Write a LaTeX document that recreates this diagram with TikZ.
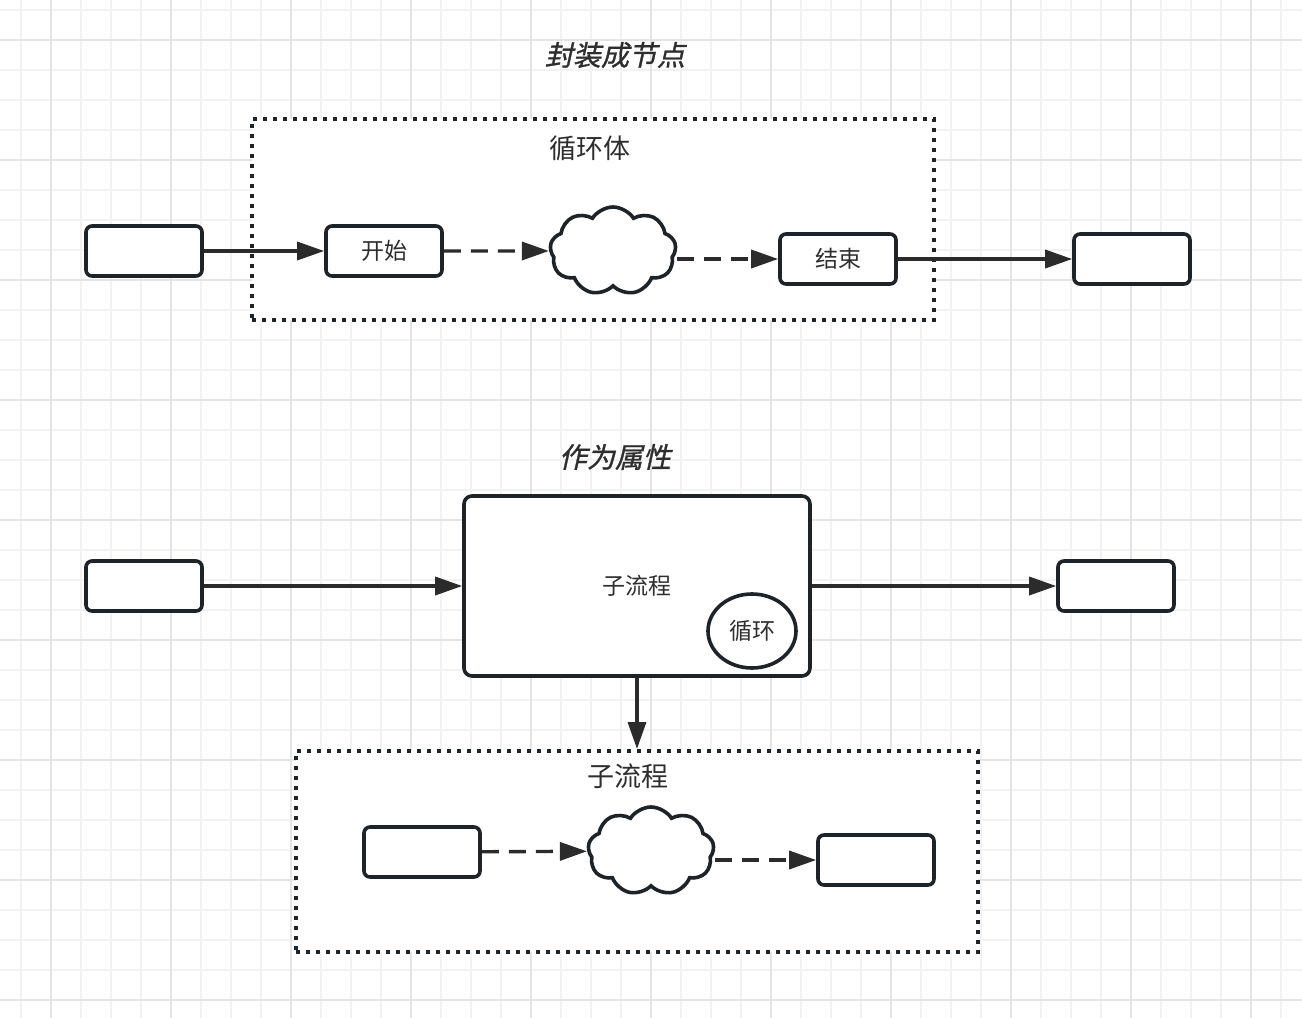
\documentclass[tikz,border=0pt]{standalone}
\usepackage{fontspec}
\usepackage{xcolor}
\usetikzlibrary{positioning, shapes.symbols, shapes.geometric, arrows.meta}
\newfontfamily\cjk{Noto Sans CJK SC}
\newfontfamily\cjkslant[FakeSlant=0.22, FakeBold=1]{Noto Sans CJK SC}
\definecolor{ink}{HTML}{1E2328}
\definecolor{arr}{HTML}{2B2B2B}
\definecolor{txt}{HTML}{2E2E2E}
\definecolor{gridminor}{HTML}{F2F2F2}
\definecolor{gridmajor}{HTML}{E4E4E4}

\begin{document}
\begin{tikzpicture}[x=1pt, y=-1pt,
  blk/.style={draw=ink, fill=white, line width=3.6pt, rounded corners=6pt, minimum width=116pt, minimum height=50pt, inner sep=0pt, font=\cjk\fontsize{23}{23}\selectfont, text=txt},
  grp/.style={draw=ink, fill=white, line width=4pt, dash pattern=on 4pt off 6pt, minimum width=682pt, minimum height=201pt, inner sep=0pt},
  cld/.style={draw=ink, fill=white, line width=3.6pt, cloud, cloud puffs=9, cloud puff arc=115, cloud ignores aspect, minimum width=126pt, minimum height=88pt, inner sep=0pt},
  ttl/.style={font=\cjkslant\fontsize{28}{28}\selectfont, text=txt},
  lbl/.style={font=\cjk\fontsize{27}{27}\selectfont, text=txt},
  edg/.style={draw=arr, line width=3.4pt, -{Triangle[length=27pt, width=18pt]}},
  dsh/.style={edg, dash pattern=on 17pt off 10pt},
]
\useasboundingbox (0,0) rectangle (1302,1018);

% ── grid paper ──
\fill[white] (0,0) rectangle (1302,1018);
\foreach \gx in {21,51,...,1301} \draw[gridminor, line width=2pt] (\gx,0) -- (\gx,1018);
\foreach \gy in {10,40,...,1010} \draw[gridminor, line width=2pt] (0,\gy) -- (1302,\gy);
\foreach \gx in {51,171,...,1291} \draw[gridmajor, line width=2pt] (\gx,0) -- (\gx,1018);
\foreach \gy in {40,160,...,1010} \draw[gridmajor, line width=2pt] (0,\gy) -- (1302,\gy);

% ── wrapped as a node ──
\node[ttl] (title1) at (615,55) {封装成节点};
\node[grp] (loop) at (593,219.5) {};
\node[lbl] (loopname) at (590,148) {循环体};
\node[blk] (in1) at (144,251) {};
\node[blk] (start) at (384,251) {开始};
\node[cld] (body1) at (613,251) {};
\node[blk] (stop) at (838,259) {结束};
\node[blk] (out1) at (1132,259) {};
\draw[edg] (in1) -- (start);
\draw[dsh] (start) -- (body1);
\draw[dsh] (body1.east |- stop.west) -- (stop);
\draw[edg] (stop) -- (out1);

% ── as an attribute ──
\node[ttl] (title2) at (615,457) {作为属性};
\node[blk, minimum width=346pt, minimum height=180pt, rounded corners=8pt] (sub) at (637,586) {子流程};
\node[draw=ink, fill=white, ellipse, line width=3.6pt, minimum width=88pt, minimum height=74pt, inner sep=0pt, font=\cjk\fontsize{23}{23}\selectfont, text=txt] (loopattr) at (752,631) {循环};
\node[blk] (in2) at (144,586) {};
\node[blk] (out2) at (1116,586) {};
\draw[edg] (in2) -- (sub);
\draw[edg] (sub) -- (out2);

% ── expanded sub-flow ──
\node[grp] (subflow) at (637,851.5) {};
\node[lbl] (subname) at (628,776) {子流程};
\node[blk] (in3) at (422,852) {};
\node[cld] (body2) at (651,851) {};
\node[blk] (out3) at (876,860) {};
\draw[edg] (sub) -- (subflow);
\draw[dsh] (in3) -- (body2);
\draw[dsh] (body2.east |- out3.west) -- (out3);
\end{tikzpicture}
\end{document}
